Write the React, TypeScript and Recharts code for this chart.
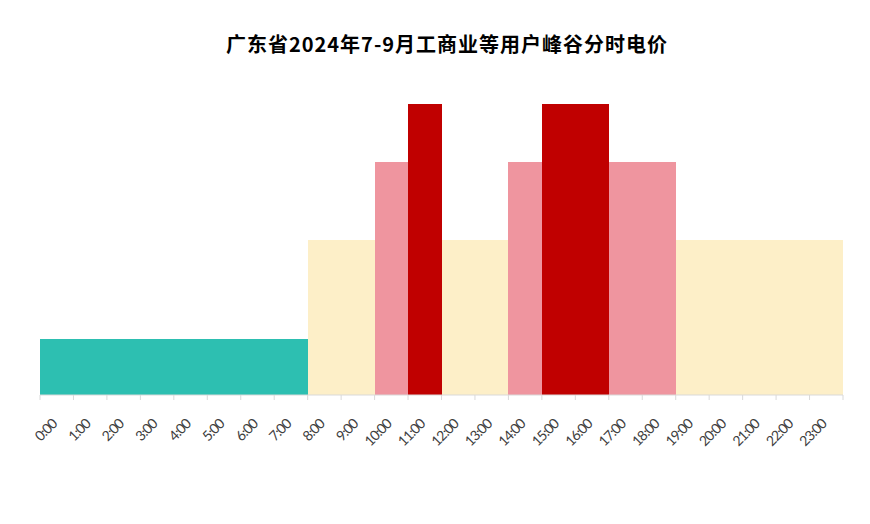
import React from 'react';
import { BarChart, Bar, XAxis, YAxis, Cell } from 'recharts';

const hours = ['0:00','1:00','2:00','3:00','4:00','5:00','6:00','7:00','8:00','9:00','10:00','11:00','12:00','13:00','14:00','15:00','16:00','17:00','18:00','19:00','20:00','21:00','22:00','23:00'];
const periods = ['valley','valley','valley','valley','valley','valley','valley','valley','flat','flat','peak','sharp','flat','flat','peak','sharp','sharp','peak','peak','flat','flat','flat','flat','flat'];
const prices = [0.28,0.28,0.28,0.28,0.28,0.28,0.28,0.28,0.775,0.775,1.165,1.455,0.775,0.775,1.165,1.455,1.455,1.165,1.165,0.775,0.775,0.775,0.775,0.775];
const periodColors: Record<string, string> = {
  valley: '#2dbfb1',
  flat: '#fdefc8',
  peak: '#ef959f',
  sharp: '#c00000',
};

const data = hours.map((h, i) => ({ hour: h, price: prices[i], period: periods[i] }));

const W = 862;
const H = 516;
const M = { top: 87, right: 27, left: 32, bottom: 69 };
const BW = (W - M.left - M.right) / hours.length;

const Tick = (props: any) => {
  const { x, y, payload, index } = props;
  const left = x - BW / 2;
  const ty = y + 22;
  return (
    <g>
      <line x1={left} y1={y - 8} x2={left} y2={y - 3} stroke="#d9d9d9" />
      {index === hours.length - 1 && (
        <line x1={x + BW / 2} y1={y - 8} x2={x + BW / 2} y2={y - 3} stroke="#d9d9d9" />
      )}
      <text
        x={x + 1}
        y={ty}
        textAnchor="end"
        transform={`rotate(-45 ${x + 1} ${ty})`}
        fontSize={14}
        fill="#404040"
        fontFamily="Lato, 'Noto Sans', sans-serif"
        letterSpacing={-1}
      >
        {payload.value}
      </text>
    </g>
  );
};

const SeamlessBar = (props: any) => {
  const { x, y, width, height, fill } = props;
  return <rect x={x} y={y} width={width + 0.6} height={height} fill={fill} shapeRendering="crispEdges" />;
};

export default function App() {
  return (
    <div style={{ width: W, height: H, position: 'relative', background: '#fff' }}>
      <div
        style={{
          position: 'absolute',
          top: 21,
          left: 0,
          width: W,
          textAlign: 'center',
          fontFamily: "'Noto Sans CJK SC', sans-serif",
          fontWeight: 700,
          fontSize: 20,
          color: '#000',
          letterSpacing: 1,
          paddingLeft: 16,
          boxSizing: 'border-box',
        }}
      >
        广东省2024年7-9月工商业等用户峰谷分时电价
      </div>
      <BarChart width={W} height={H} data={data} margin={M} barCategoryGap={0}>
        <XAxis
          dataKey="hour"
          interval={0}
          tickLine={false}
          axisLine={{ stroke: '#d9d9d9' }}
          tick={<Tick />}
          height={60}
        />
        <YAxis hide domain={[0, 1.5]} />
        <Bar dataKey="price" isAnimationActive={false} shape={<SeamlessBar />}>
          {data.map((d, i) => (
            <Cell key={i} fill={periodColors[d.period]} />
          ))}
        </Bar>
      </BarChart>
    </div>
  );
}
